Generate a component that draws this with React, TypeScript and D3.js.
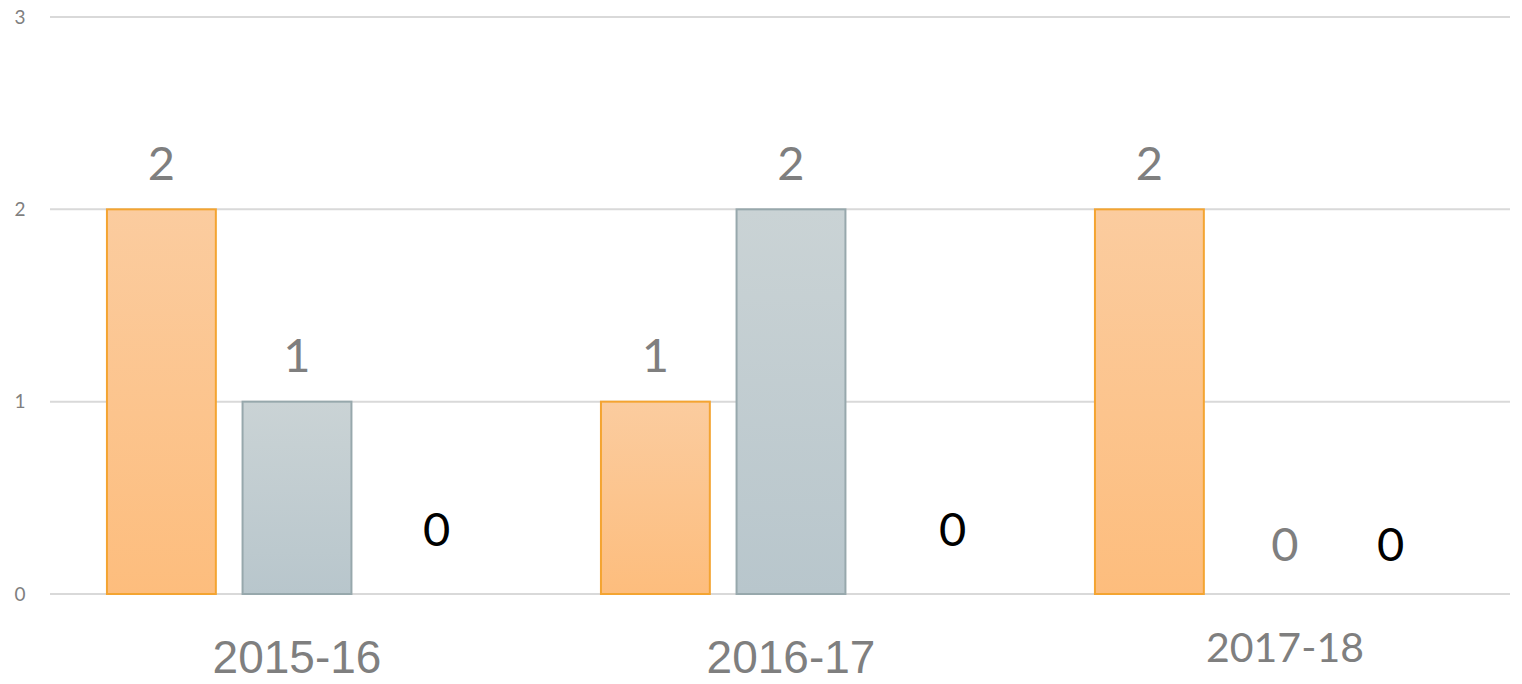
import React from "react";
import * as d3 from "d3";

const categories = ["2015-16", "2016-17", "2017-18"];
const seriesNames = ["A", "B", "C"];
const seriesA = [2, 1, 2];
const seriesB = [1, 2, 0];
const seriesC = [0, 0, 0];
const yTicks = [0, 1, 2, 3];

const W = 1522;
const H = 684;

export default function App() {
  const y = d3.scaleLinear().domain([0, 3]).range([594, 17]);
  const x0 = d3.scaleBand<string>().domain(categories).range([50, 1532]).padding(0);
  const x1 = d3.scaleBand<string>().domain(seriesNames).range([0, x0.bandwidth()]).paddingInner(0.197).paddingOuter(0.42);
  const data = [seriesA, seriesB, seriesC];
  const numFont = "Lato, 'Open Sans', sans-serif";
  const thirdOffset = [4, 26, -30];

  return (
    <div style={{ position: "absolute", left: 0, top: 0 }}>
      <svg width={W} height={H} style={{ display: "block", background: "#fff" }}>
        <defs>
          <linearGradient id="gOrange" x1="0" y1="0" x2="0" y2="1">
            <stop offset="0" stopColor="#FBCC9F" />
            <stop offset="1" stopColor="#FDBD7D" />
          </linearGradient>
          <linearGradient id="gGray" x1="0" y1="0" x2="0" y2="1">
            <stop offset="0" stopColor="#CAD3D5" />
            <stop offset="1" stopColor="#B8C6CC" />
          </linearGradient>
        </defs>
        {yTicks.map((t) => (
          <g key={t}>
            <line x1={50} x2={1510} y1={y(t)} y2={y(t)} stroke="#d9d9d9" strokeWidth={2} />
            <text x={20} y={y(t)} dy="0.35em" textAnchor="middle" fontFamily={numFont} fontSize={19} fill="#7f7f7f">
              {t}
            </text>
          </g>
        ))}
        {categories.map((c, ci) => {
          const gx = x0(c)!;
          return (
            <g key={c}>
              {seriesNames.map((s, si) => {
                const v = data[si][ci];
                const bx = gx + x1(s)!;
                const bw = x1.bandwidth();
                const cx = bx + bw / 2;
                const fill = si === 0 ? "url(#gOrange)" : "url(#gGray)";
                const stroke = si === 0 ? "#F4A431" : "#97A8AC";
                let ly = y(v) - 46;
                let color = "#7f7f7f";
                let lx = cx;
                if (si === 2) {
                  color = "#000";
                  ly = ci === 2 ? 545 : 530;
                  lx = cx + thirdOffset[ci];
                } else if (v === 0) {
                  ly = 545;
                }
                return (
                  <g key={s}>
                    {v > 0 && si < 2 && (
                      <rect x={bx} y={y(v)} width={bw} height={y(0) - y(v)} fill={fill} stroke={stroke} strokeWidth={2} />
                    )}
                    <text x={lx} y={ly} dy="0.35em" textAnchor="middle" fontFamily={numFont} fontSize={47} fill={color}>
                      {v}
                    </text>
                  </g>
                );
              })}
              <text
                x={gx + x0.bandwidth() / 2}
                y={ci === 2 ? 648 : 657}
                dy="0.35em"
                textAnchor="middle"
                fontFamily={ci === 2 ? numFont : "'Liberation Sans', Arial, sans-serif"}
                fontSize={ci === 2 ? 41 : 46}
                fill="#7f7f7f"
              >
                {c}
              </text>
            </g>
          );
        })}
      </svg>
    </div>
  );
}
